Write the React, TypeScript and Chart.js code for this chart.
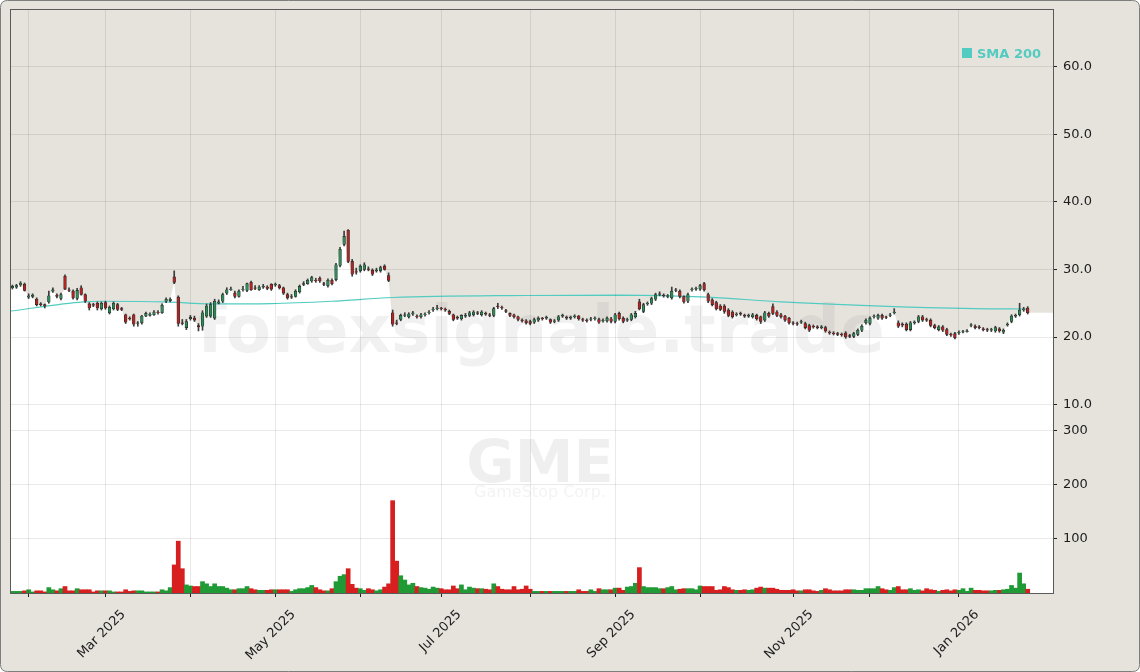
import React, { useEffect, useRef } from "react";
import { Chart, registerables } from "chart.js";

Chart.register(...registerables);

// ---- calendar (trading days shown on the x axis) ----
const START_DATE = "2025-01-28";
const END_DATE = "2026-01-28";
const HOLIDAYS = [
  "2025-02-17", "2025-04-18", "2025-05-26", "2025-06-19", "2025-07-04",
  "2025-09-01", "2025-11-27", "2025-12-25", "2026-01-01", "2026-01-19",
];
const MONTHS = ["Jan", "Feb", "Mar", "Apr", "May", "Jun", "Jul", "Aug", "Sep", "Oct", "Nov", "Dec"];

// ---- OHLC (USD) ----
const opens = [
  27.3, 27.4, 27.7, 27.8, 25.9, 26.0, 25.6, 24.9, 24.8, 25.2,
  26.8, 26.2, 25.7, 29.0, 27.0, 26.8, 25.7, 27.3, 26.3, 24.9,
  24.8, 25.0, 24.2, 25.1, 23.6, 24.2, 24.8, 24.2, 23.3, 22.8,
  23.3, 22.0, 22.1, 23.1, 23.2, 23.3, 23.7, 23.6, 25.3, 25.4,
  28.9, 25.9, 22.1, 21.4, 22.7, 22.8, 21.7, 21.6, 23.1, 23.1,
  22.8, 25.0, 25.3, 26.5, 27.0, 26.5, 26.0, 27.0, 26.9, 28.1,
  27.3, 27.0, 27.4, 27.4,
  27.8, 27.7, 27.6, 27.3, 26.3, 25.9, 26.0, 26.7, 27.8, 27.9,
  28.3, 28.4, 28.7, 27.9, 27.6, 28.4, 28.5, 30.6, 33.7, 35.8,
  31.2, 29.7, 29.8, 30.0, 30.1, 29.9, 29.8, 29.8, 30.5, 29.1,
  23.6, 22.1, 22.6, 23.2, 23.0, 23.4, 23.1, 23.0, 23.3, 23.6,
  24.0, 24.2, 24.3, 24.1, 23.8, 23.3, 22.9, 22.7, 23.1, 23.2,
  23.3, 23.6, 23.3, 23.5, 23.3, 23.2, 24.6, 24.4, 23.9, 23.5,
  23.3, 23.0, 22.5,
  22.4, 22.3, 22.2, 22.5, 22.8, 22.8, 22.6, 22.3, 22.5, 23.1,
  22.9, 22.8, 23.0, 23.1, 22.6, 22.5, 22.6, 22.7, 22.6, 22.4,
  22.4, 22.7, 22.3, 23.5, 22.8, 22.5, 22.6, 23.0, 25.2, 23.8,
  24.9, 25.0, 25.6, 26.3, 26.2, 26.0, 25.8, 26.9, 26.8, 26.0,
  25.3, 27.0, 27.1, 27.1, 27.9, 26.3, 25.5, 25.1, 24.6, 24.6,
  24.0, 23.7, 23.3, 23.5, 23.2, 23.1, 23.0, 23.2, 23.0, 22.5,
  23.5, 24.5, 23.7,
  23.3, 23.1, 22.8, 22.1, 22.0, 22.2, 22.0, 21.7, 21.6, 21.5,
  21.4, 21.4, 20.7, 20.6, 20.5, 20.4, 20.6, 20.2, 20.1, 20.4,
  21.0, 22.1, 22.0, 23.0, 22.8, 23.2, 23.0, 23.2, 23.6, 22.1,
  21.9, 21.9, 21.1, 22.1, 22.3, 23.0, 22.6, 22.5, 21.7, 21.1,
  21.5, 21.1, 20.4, 20.5, 20.6, 20.7, 20.8, 21.7, 21.6, 21.5,
  21.2, 21.1, 21.0, 20.9, 21.2, 20.7, 21.8, 22.3, 23.1, 23.3,
  24.0, 24.3,
];
const highs = [
  27.7, 27.8, 28.2, 28.0, 26.4, 26.4, 25.8, 25.1, 24.9, 26.8,
  27.3, 26.4, 26.5, 29.2, 27.3, 27.0, 27.2, 27.6, 26.4, 25.1,
  25.0, 25.2, 25.2, 25.3, 24.6, 25.2, 25.0, 24.4, 23.4, 23.0,
  23.4, 22.3, 23.2, 23.7, 23.6, 23.9, 23.9, 24.9, 25.8, 25.8,
  29.8, 26.1, 22.6, 22.6, 23.2, 23.1, 22.0, 23.9, 24.9, 25.1,
  25.6, 25.5, 26.5, 27.3, 27.4, 26.8, 27.0, 27.5, 28.0, 28.3,
  27.6, 27.6, 27.8, 27.6,
  27.9, 28.0, 27.8, 27.4, 26.5, 26.3, 27.0, 27.7, 28.2, 28.6,
  29.0, 28.7, 28.9, 28.1, 28.6, 28.6, 30.9, 33.3, 35.7, 35.9,
  31.5, 30.2, 30.7, 31.0, 30.4, 30.1, 30.2, 30.5, 30.7, 29.5,
  24.0, 22.5, 23.4, 23.6, 23.6, 23.8, 23.3, 23.5, 23.6, 23.9,
  24.4, 24.7, 24.4, 24.3, 24.0, 23.4, 23.1, 23.3, 23.5, 23.8,
  23.9, 23.8, 23.9, 23.7, 23.5, 24.4, 25.0, 24.6, 24.1, 23.6,
  23.4, 23.1, 22.7,
  22.6, 22.5, 22.8, 23.0, 22.9, 23.1, 22.7, 22.6, 23.2, 23.4,
  23.1, 23.1, 23.3, 23.2, 22.8, 22.7, 22.9, 23.0, 22.8, 22.7,
  23.0, 22.9, 23.5, 23.7, 23.0, 22.8, 23.5, 23.8, 25.6, 25.0,
  25.2, 25.9, 26.5, 26.7, 26.4, 26.3, 27.4, 27.2, 27.0, 26.1,
  26.5, 27.3, 27.4, 27.8, 28.1, 26.5, 25.7, 25.3, 24.8, 24.8,
  24.2, 23.9, 23.6, 23.7, 23.4, 23.4, 23.5, 23.4, 23.1, 23.8,
  23.7, 24.9, 23.9,
  23.5, 23.2, 22.9, 22.3, 22.2, 22.5, 22.2, 21.9, 21.8, 21.7,
  21.7, 21.6, 20.9, 20.8, 20.7, 20.6, 20.8, 20.4, 20.7, 21.2,
  21.8, 22.7, 23.0, 23.3, 23.4, 23.4, 23.1, 23.5, 24.2, 22.4,
  22.1, 22.1, 22.3, 22.4, 23.2, 23.2, 22.8, 22.7, 21.9, 21.7,
  21.7, 21.3, 20.6, 20.7, 20.9, 21.0, 21.1, 22.0, 21.8, 21.7,
  21.4, 21.3, 21.3, 21.6, 21.4, 21.2, 22.1, 23.3, 23.4, 25.0,
  24.4, 24.5,
];
const lows = [
  27.1, 27.2, 27.5, 26.8, 25.7, 25.8, 24.6, 24.6, 24.3, 25.0,
  26.6, 25.8, 25.5, 27.0, 26.7, 25.6, 25.5, 26.2, 25.1, 24.0,
  24.5, 24.0, 24.0, 24.1, 23.4, 24.0, 23.9, 23.9, 22.0, 22.5,
  21.6, 21.6, 21.9, 23.0, 23.1, 23.2, 23.4, 23.5, 25.1, 25.2,
  27.9, 21.6, 21.8, 21.1, 22.5, 22.3, 20.9, 21.0, 22.9, 22.9,
  22.6, 24.9, 25.1, 26.3, 26.9, 25.8, 25.9, 26.8, 26.7, 26.9,
  27.0, 26.9, 27.2, 27.0,
  26.9, 27.5, 27.1, 26.3, 25.6, 25.7, 25.9, 26.5, 27.6, 27.8,
  28.1, 28.1, 28.1, 27.6, 27.4, 27.7, 28.3, 30.4, 33.5, 31.0,
  29.0, 29.3, 29.6, 29.8, 29.8, 29.1, 29.6, 29.6, 29.9, 28.2,
  21.6, 21.8, 22.4, 23.0, 22.8, 23.2, 22.8, 22.8, 23.1, 23.4,
  23.8, 24.0, 24.0, 23.8, 23.3, 22.4, 22.6, 22.5, 22.9, 23.0,
  23.1, 23.3, 23.1, 23.2, 23.0, 23.0, 24.2, 24.1, 23.6, 23.0,
  22.8, 22.4, 22.2,
  21.9, 21.8, 22.0, 22.3, 22.5, 22.6, 22.0, 22.1, 22.3, 22.9,
  22.6, 22.6, 22.8, 22.5, 22.3, 22.2, 22.4, 22.5, 22.0, 22.2,
  22.2, 22.1, 22.1, 22.5, 22.1, 22.3, 22.4, 22.8, 24.0, 23.6,
  24.7, 24.8, 25.4, 26.1, 25.9, 25.8, 25.6, 26.7, 25.8, 25.0,
  25.1, 26.8, 26.9, 26.9, 26.8, 25.1, 24.6, 24.0, 23.9, 23.5,
  23.0, 22.8, 23.1, 23.2, 22.9, 22.9, 22.8, 22.5, 22.0, 22.3,
  22.9, 23.3, 23.0,
  22.8, 22.3, 21.9, 21.8, 21.7, 22.0, 21.2, 20.8, 21.3, 21.2,
  21.2, 20.7, 20.4, 20.3, 20.2, 20.1, 19.8, 19.9, 19.9, 20.2,
  20.8, 21.9, 21.8, 22.8, 22.6, 22.6, 22.7, 23.0, 23.4, 21.4,
  21.5, 20.9, 20.9, 21.9, 22.1, 22.3, 22.3, 21.5, 21.2, 20.9,
  20.8, 20.2, 20.1, 19.7, 20.4, 20.6, 20.7, 21.5, 21.2, 21.2,
  20.9, 20.8, 20.8, 20.7, 20.7, 20.5, 21.6, 22.1, 22.9, 23.1,
  23.8, 23.4,
];
const closes = [
  27.5, 27.6, 28.0, 26.9, 26.1, 26.2, 24.8, 24.8, 24.6, 26.1,
  27.0, 26.0, 26.3, 27.1, 26.9, 25.8, 26.9, 26.3, 25.3, 24.3,
  24.7, 24.3, 25.0, 24.3, 24.4, 25.0, 24.1, 24.1, 22.2, 22.7,
  21.9, 22.1, 23.1, 23.5, 23.4, 23.7, 23.6, 24.7, 25.6, 25.6,
  28.1, 22.0, 22.0, 22.3, 22.9, 22.5, 21.5, 23.6, 24.6, 24.8,
  25.3, 25.2, 26.3, 27.0, 27.1, 26.0, 26.8, 27.1, 27.9, 27.0,
  27.2, 27.4, 27.5, 27.2,
  27.1, 27.8, 27.3, 26.5, 25.8, 26.0, 26.8, 27.5, 27.9, 28.4,
  28.8, 28.3, 28.3, 27.8, 28.4, 27.9, 30.7, 33.0, 34.9, 31.2,
  29.3, 29.6, 30.5, 30.7, 30.0, 29.3, 29.9, 30.3, 30.0, 28.4,
  21.9, 22.0, 23.2, 23.3, 23.4, 23.6, 23.0, 23.3, 23.4, 23.7,
  24.1, 24.3, 24.2, 24.0, 23.5, 22.6, 22.8, 23.2, 23.2, 23.6,
  23.7, 23.5, 23.7, 23.4, 23.2, 24.2, 24.5, 24.3, 23.8, 23.2,
  23.0, 22.6, 22.4,
  22.1, 22.0, 22.6, 22.8, 22.7, 22.9, 22.2, 22.4, 23.0, 23.2,
  22.8, 22.9, 23.1, 22.7, 22.5, 22.4, 22.7, 22.8, 22.2, 22.5,
  22.8, 22.3, 23.3, 22.7, 22.3, 22.6, 23.3, 23.5, 24.2, 24.8,
  25.0, 25.7, 26.3, 26.4, 26.1, 26.1, 26.8, 27.0, 26.0, 25.2,
  26.3, 27.1, 27.2, 27.6, 27.0, 25.3, 24.8, 24.2, 24.1, 23.8,
  23.2, 23.0, 23.4, 23.4, 23.1, 23.2, 23.3, 22.7, 22.3, 23.6,
  23.1, 23.5, 23.2,
  23.0, 22.5, 22.1, 22.0, 21.9, 22.3, 21.4, 21.0, 21.5, 21.4,
  21.5, 20.9, 20.6, 20.5, 20.4, 20.3, 20.0, 20.1, 20.5, 21.0,
  21.6, 22.5, 22.8, 23.1, 23.2, 22.8, 22.9, 23.3, 23.7, 21.6,
  21.8, 21.1, 22.1, 22.2, 23.0, 22.5, 22.5, 21.7, 21.4, 21.5,
  21.0, 20.4, 20.3, 19.9, 20.7, 20.8, 20.9, 21.8, 21.4, 21.4,
  21.1, 21.0, 21.1, 21.4, 20.9, 21.0, 21.9, 23.1, 23.2, 24.0,
  24.1, 23.6,
];

// ---- volume (millions of shares) ----
const volumes = [
  3, 3, 3, 4, 6, 2, 4, 4, 2, 10,
  6, 4, 8, 12, 4, 4, 8, 6, 6, 6,
  2, 4, 4, 4, 4, 2, 2, 2, 6, 3,
  4, 4, 4, 2, 2, 2, 2, 6, 4, 10,
  52, 96, 45, 15, 13, 12, 12, 21, 17, 12,
  17, 12, 12, 9, 6, 6, 8, 8, 12, 8,
  6, 5, 5, 5, 6, 6, 6, 6, 6, 3,
  6, 8, 8, 10, 14, 10, 6, 4, 4, 8,
  21, 31, 34, 45, 16, 9, 8, 5, 8, 6,
  4, 6, 11, 17, 171, 59, 32, 24, 15, 18,
  12, 10, 9, 7, 11, 9, 8, 6, 6, 13,
  8, 15, 6, 11, 9, 8, 8, 7, 6, 17,
  12, 7, 6, 6, 12, 6, 7, 13, 7, 3,
  3, 3, 3, 3, 3, 3, 3, 3, 3, 3,
  6, 3, 3, 6, 3, 8, 6, 6, 6, 9,
  9, 5, 11, 12, 18, 47, 12, 10, 10, 10,
  8, 8, 10, 12, 6, 7, 8, 8, 8, 6,
  13, 12, 12, 12, 5, 6, 12, 10, 6, 5,
  5, 6, 5, 6, 9, 11, 9, 9, 9, 7,
  5, 5, 5, 6, 4, 4, 6, 6, 4, 3,
  5, 8, 6, 4, 4, 4, 6, 6, 6, 5,
  5, 8, 8, 8, 12, 8, 6, 5, 10, 12,
  6, 6, 8, 5, 6, 4, 8, 6, 5, 3,
  5, 6, 4, 6, 5, 8, 3, 9, 5, 5,
  4, 4, 4, 5, 5, 6, 7, 14, 9, 37,
  17, 7,
];

// ---- SMA 200 (read at trading-day positions) ----
const smaIndex = [-0.35, 17.5, 22, 38, 49, 64, 79, 94, 127, 150, 172, 190, 213, 238, 251];
const smaValues = [23.85, 25.2, 25.3, 25.2, 24.9, 24.95, 25.3, 25.85, 26.15, 26.2, 25.9, 25.2, 24.6, 24.2, 24.15];

// ---- axis ticks ----
const priceTicks = [10, 20, 30, 40, 50, 60];
const volumeTicks = [100, 200, 300];

const FONT = '"DejaVu Sans", "Liberation Sans", sans-serif';
const BEIGE = "#e6e3dd";
const UP = "#2e8b57";
const DOWN = "#b02424";
const VOL_UP = "#1f9a35";
const VOL_DOWN = "#d81f1f";
const SMA_COLOR = "#52cbc1";
const GRID = "rgba(0,0,0,0.085)";

function buildTradingDays(): string[] {
  const out: string[] = [];
  const d = new Date(START_DATE + "T00:00:00Z");
  const end = new Date(END_DATE + "T00:00:00Z");
  while (d.getTime() <= end.getTime()) {
    const dow = d.getUTCDay();
    const iso = d.toISOString().slice(0, 10);
    if (dow !== 0 && dow !== 6 && HOLIDAYS.indexOf(iso) < 0) out.push(iso);
    d.setUTCDate(d.getUTCDate() + 1);
  }
  return out;
}

function zeroPadding(s: any) {
  s.paddingTop = 0;
  s.paddingBottom = 0;
  s.paddingLeft = 0;
  s.paddingRight = 0;
}

export default function App() {
  const ref = useRef<HTMLCanvasElement>(null);

  useEffect(() => {
    const canvas = ref.current;
    if (!canvas) return;
    const days = buildTradingDays();
    const monthStarts: { index: number; label: string }[] = [];
    for (let i = 1; i < days.length; i++) {
      if (days[i].slice(0, 7) !== days[i - 1].slice(0, 7)) {
        const yr = Number(days[i].slice(0, 4));
        const mo = Number(days[i].slice(5, 7)) - 1;
        monthStarts.push({ index: i, label: mo % 2 === 0 ? `${MONTHS[mo]} ${yr}` : "" });
      }
    }
    const labelByIndex = new Map<number, string>();
    monthStarts.forEach((m) => labelByIndex.set(m.index, m.label));

    const n = closes.length;
    const xMin = -0.35;
    const xMax = 257.25;
    const isUp = closes.map((c, i) => c >= opens[i]);

    const fillData = [
      { x: xMin, y: closes[0] },
      ...closes.map((c, i) => ({ x: i, y: c })),
      { x: xMax, y: closes[n - 1] },
    ];

    const bgPlugin = {
      id: "bgPlugin",
      beforeDraw(chart: any) {
        const { ctx, chartArea } = chart;
        const W = chart.width;
        const H = chart.height;
        ctx.save();
        ctx.fillStyle = "#ffffff";
        ctx.fillRect(0, 0, W, H);
        ctx.beginPath();
        const r = 7;
        const x0 = 0.5, y0 = 0.5, x1 = W - 0.5, y1 = H - 0.5;
        ctx.moveTo(x0 + r, y0);
        ctx.lineTo(x1 - r, y0);
        ctx.quadraticCurveTo(x1, y0, x1, y0 + r);
        ctx.lineTo(x1, y1 - r);
        ctx.quadraticCurveTo(x1, y1, x1 - r, y1);
        ctx.lineTo(x0 + r, y1);
        ctx.quadraticCurveTo(x0, y1, x0, y1 - r);
        ctx.lineTo(x0, y0 + r);
        ctx.quadraticCurveTo(x0, y0, x0 + r, y0);
        ctx.closePath();
        ctx.fillStyle = BEIGE;
        ctx.fill();
        ctx.strokeStyle = "#7d7d7d";
        ctx.lineWidth = 1;
        ctx.stroke();
        const yv = chart.scales.yVol;
        ctx.fillStyle = "#ffffff";
        ctx.fillRect(chartArea.left, yv.top, chartArea.right - chartArea.left, yv.bottom - yv.top);
        ctx.restore();
      },
    };

    const watermarkPlugin = {
      id: "watermarkPlugin",
      afterDatasetDraw(chart: any, args: any) {
        if (args.index !== 0) return;
        const { ctx } = chart;
        ctx.save();
        ctx.textAlign = "center";
        ctx.textBaseline = "alphabetic";
        ctx.fillStyle = "rgba(120,120,120,0.10)";
        ctx.font = `bold 66px ${FONT}`;
        ctx.fillText("forexsignale.trade", 541, 352);
        ctx.fillStyle = "rgba(120,120,120,0.12)";
        ctx.font = `bold 59px ${FONT}`;
        ctx.fillText("GME", 540, 482);
        ctx.fillStyle = "rgba(120,120,120,0.09)";
        ctx.font = `16px ${FONT}`;
        ctx.fillText("GameStop Corp.", 540, 497);
        ctx.restore();
      },
    };

    const framePlugin = {
      id: "framePlugin",
      afterDraw(chart: any) {
        const { ctx, chartArea } = chart;
        ctx.save();
        ctx.strokeStyle = "#5a5a5a";
        ctx.lineWidth = 1;
        ctx.strokeRect(chartArea.left - 0.5, chartArea.top - 0.5, chartArea.right - chartArea.left + 1, chartArea.bottom - chartArea.top + 1);
        // legend
        ctx.fillStyle = SMA_COLOR;
        ctx.fillRect(962, 48, 10, 10);
        ctx.font = `bold 13px ${FONT}`;
        ctx.textAlign = "left";
        ctx.textBaseline = "alphabetic";
        ctx.fillText("SMA 200", 977, 58);
        ctx.restore();
      },
    };

    const chart = new Chart(canvas, {
      type: "line",
      data: {
        datasets: [
          {
            type: "line",
            label: "close-area",
            data: fillData,
            yAxisID: "y",
            borderWidth: 0,
            borderColor: "rgba(0,0,0,0)",
            backgroundColor: "#ffffff",
            pointRadius: 0,
            fill: "start",
            tension: 0,
            order: 10,
          } as any,
          {
            type: "bar",
            label: "Volume",
            data: volumes.map((v, i) => ({ x: i, y: v })),
            yAxisID: "yVol",
            backgroundColor: isUp.map((u) => (u ? VOL_UP : VOL_DOWN)),
            borderWidth: 0,
            barPercentage: 1,
            categoryPercentage: 1,
            grouped: false,
            order: 6,
          } as any,
          {
            type: "line",
            label: "SMA 200",
            data: smaIndex.map((x, k) => ({ x, y: smaValues[k] })),
            yAxisID: "y",
            borderColor: SMA_COLOR,
            borderWidth: 1.2,
            pointRadius: 0,
            fill: false,
            cubicInterpolationMode: "monotone",
            order: 4,
          } as any,
          {
            type: "bar",
            label: "wick",
            data: lows.map((l, i) => ({ x: i, y: [l, highs[i]] })),
            yAxisID: "y",
            backgroundColor: "#3c3c3c",
            borderWidth: 0,
            barThickness: 1,
            grouped: false,
            order: 3,
          } as any,
          {
            type: "bar",
            label: "body",
            data: opens.map((o, i) => ({ x: i, y: [o, closes[i]] })),
            yAxisID: "y",
            backgroundColor: isUp.map((u) => (u ? UP : DOWN)),
            borderColor: "#262626",
            borderWidth: 0.6,
            borderSkipped: false,
            barThickness: 2.7,
            grouped: false,
            order: 2,
          } as any,
        ],
      },
      options: {
        animation: false,
        responsive: false,
        events: [],
        layout: { padding: { left: 11, top: 10, right: 0, bottom: 0 } },
        plugins: { legend: { display: false }, tooltip: { enabled: false } },
        scales: {
          x: {
            type: "linear",
            min: xMin,
            max: xMax,
            offset: false,
            afterBuildTicks: (s: any) => {
              s.ticks = monthStarts.map((m) => ({ value: m.index }));
            },
            afterFit: (s: any) => {
              s.height = 79;
              zeroPadding(s);
            },
            ticks: {
              autoSkip: false,
              minRotation: 45,
              maxRotation: 45,
              labelOffset: 18,
              padding: 10,
              color: "#1c1c1c",
              font: { family: FONT, size: 13 },
              callback: (v: any) => labelByIndex.get(Number(v)) ?? "",
            },
            grid: { color: GRID, tickColor: "#222", tickLength: 4, z: 1, offset: false },
            border: { display: false },
          },
          y: {
            type: "linear",
            position: "right",
            stack: "panels",
            stackWeight: 417,
            min: 6.67,
            max: 68.44,
            afterBuildTicks: (s: any) => {
              s.ticks = priceTicks.map((v) => ({ value: v }));
            },
            afterFit: (s: any) => {
              s.width = 87;
              zeroPadding(s);
            },
            ticks: {
              padding: 6,
              color: "#1c1c1c",
              font: { family: FONT, size: 13 },
              callback: (v: any) => Number(v).toFixed(1),
            },
            grid: { color: GRID, tickColor: "#222", tickLength: 4, z: 1 },
            border: { display: false },
          },
          yVol: {
            type: "linear",
            position: "right",
            stack: "panels",
            stackWeight: 166,
            min: 0,
            max: 307.4,
            afterBuildTicks: (s: any) => {
              s.ticks = volumeTicks.map((v) => ({ value: v }));
            },
            afterFit: (s: any) => {
              s.width = 87;
              zeroPadding(s);
            },
            ticks: {
              padding: 6,
              color: "#1c1c1c",
              font: { family: FONT, size: 13 },
              callback: (v: any) => String(v),
            },
            grid: { color: GRID, tickColor: "#222", tickLength: 4, z: 1 },
            border: { display: false },
          },
        },
      } as any,
      plugins: [bgPlugin, watermarkPlugin, framePlugin],
    });

    return () => {
      chart.destroy();
    };
  }, []);

  return (
    <div style={{ position: "absolute", left: 0, top: 0, width: 1140, height: 672 }}>
      <canvas ref={ref} width={1140} height={672} style={{ display: "block" }} />
    </div>
  );
}
